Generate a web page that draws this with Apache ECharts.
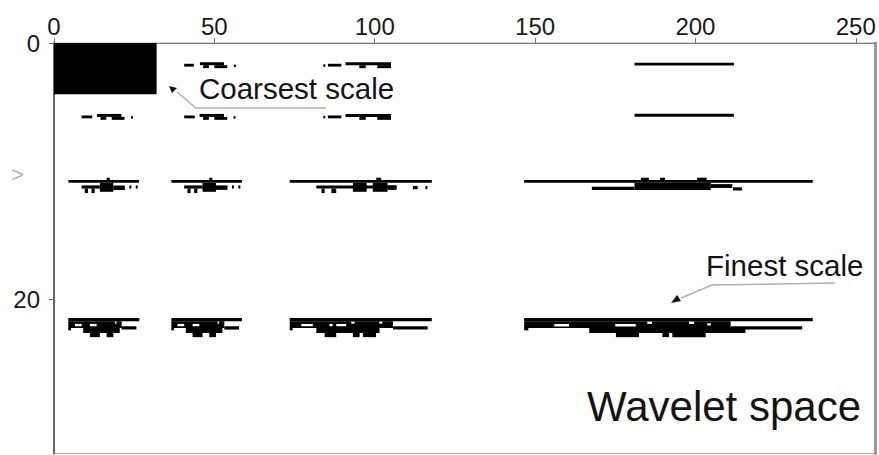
<!DOCTYPE html>
<html>
<head>
<meta charset="utf-8">
<script src="https://cdn.jsdelivr.net/npm/echarts@6/dist/echarts.min.js"></script>
<style>
  html, body { margin: 0; padding: 0; background: #fff; }
  #chart { width: 879px; height: 455px; }
</style>
</head>
<body>
<div id="chart"></div>
<script>
// Each significant-coefficient run is [xStart, xEnd, yTop, yBottom] in axis units.

// Scaling coefficients of the coarsest level
const coarsestBlock = [
  [0, 32, 0, 4]
];

// Detail coefficients, level near y = 1.6
const detailRowA = [
  [40.6, 43.6, 1.62, 1.84],
  [45.5, 53.0, 1.5, 1.73],
  [46.5, 48.3, 1.73, 1.96],
  [50.0, 54.0, 1.73, 1.96],
  [56.1, 56.7, 1.68, 1.88],
  [84.0, 84.6, 1.66, 1.86],
  [85.4, 89.6, 1.62, 1.84],
  [90.9, 105.1, 1.5, 1.73],
  [95.2, 97.2, 1.73, 1.96],
  [100.8, 105.1, 1.73, 1.96],
  [181.0, 212.0, 1.53, 1.76]
];

// Detail coefficients, level near y = 5.6
const detailRowB = [
  [8.6, 11.9, 5.65, 5.87],
  [13.4, 21.0, 5.53, 5.76],
  [14.5, 16.3, 5.76, 5.99],
  [18.0, 22.0, 5.76, 5.99],
  [24.0, 24.6, 5.7, 5.9],
  [40.6, 43.9, 5.65, 5.87],
  [45.4, 53.0, 5.53, 5.76],
  [46.5, 48.3, 5.76, 5.99],
  [50.0, 54.0, 5.76, 5.99],
  [56.0, 56.6, 5.7, 5.9],
  [84.0, 84.6, 5.68, 5.88],
  [85.4, 89.6, 5.65, 5.87],
  [90.9, 105.1, 5.53, 5.76],
  [95.2, 97.2, 5.76, 5.99],
  [100.8, 105.1, 5.76, 5.99],
  [181.0, 212.0, 5.51, 5.74]
];

// Detail coefficients, level near y = 10.8
const detailRowC = [
  [4.5, 26.5, 10.68, 10.9],
  [8.6, 14.3, 11.1, 11.35],
  [9.6, 10.6, 11.35, 11.7],
  [11.7, 12.7, 11.35, 11.7],
  [14.3, 18.5, 10.9, 11.6],
  [18.5, 22.1, 11.1, 11.45],
  [16.4, 17.4, 10.5, 10.68],
  [23.5, 24.1, 11.1, 11.35],
  [25.5, 26.1, 11.1, 11.35],

  [36.6, 58.6, 10.68, 10.9],
  [40.6, 46.3, 11.1, 11.35],
  [41.6, 42.6, 11.35, 11.7],
  [43.7, 44.7, 11.35, 11.7],
  [46.3, 50.5, 10.9, 11.6],
  [50.5, 54.1, 11.1, 11.45],
  [48.4, 49.4, 10.5, 10.68],
  [55.5, 56.1, 11.1, 11.35],
  [57.5, 58.1, 11.1, 11.35],

  [73.5, 117.8, 10.68, 10.9],
  [81.8, 106.8, 11.1, 11.35],
  [83.4, 84.4, 11.35, 11.7],
  [86.5, 88.0, 11.35, 11.7],
  [93.2, 97.5, 10.9, 11.6],
  [99.4, 104.0, 10.9, 11.6],
  [104.0, 106.8, 11.1, 11.45],
  [100.5, 102.0, 10.5, 10.68],
  [111.9, 113.4, 11.15, 11.4],
  [115.8, 116.4, 11.15, 11.4],

  [146.6, 236.6, 10.68, 10.9],
  [167.7, 181.0, 11.2, 11.45],
  [181.0, 204.8, 10.9, 11.45],
  [183.0, 185.5, 10.5, 10.68],
  [189.0, 190.5, 10.5, 10.68],
  [200.5, 203.5, 10.5, 10.68],
  [204.8, 211.5, 11.0, 11.3],
  [211.7, 214.5, 11.25, 11.5]
];

// Detail coefficients, finest level near y = 21.5
const finestRow = [
  [4.45, 26.6, 21.44, 21.69],
  [4.45, 21.1, 21.69, 22.21],
  [21.1, 25.7, 22.08, 22.34],
  [4.45, 5.3, 22.21, 22.4],
  [9.1, 20.5, 22.21, 22.6],
  [11.2, 14.3, 22.6, 22.93],
  [16.4, 18.5, 22.6, 22.93],

  [36.6, 58.6, 21.44, 21.69],
  [36.6, 53.1, 21.69, 22.21],
  [53.1, 57.7, 22.08, 22.34],
  [36.6, 37.4, 22.21, 22.4],
  [41.1, 52.5, 22.21, 22.6],
  [43.2, 46.3, 22.6, 22.93],
  [48.4, 50.5, 22.6, 22.93],

  [73.5, 117.8, 21.44, 21.69],
  [73.5, 105.7, 21.69, 22.21],
  [105.7, 116.5, 22.08, 22.34],
  [73.5, 74.4, 22.21, 22.4],
  [81.8, 101.5, 22.21, 22.6],
  [84.4, 88.0, 22.6, 22.93],
  [93.2, 95.3, 22.6, 22.93],
  [96.3, 100.4, 22.6, 22.93],

  [146.6, 236.6, 21.44, 21.69],
  [146.6, 211.0, 21.69, 22.21],
  [211.0, 233.3, 22.08, 22.34],
  [146.6, 147.9, 22.21, 22.4],
  [166.9, 215.6, 22.21, 22.6],
  [175.2, 182.4, 22.6, 22.93],
  [189.7, 191.8, 22.6, 22.93],
  [192.8, 203.2, 22.6, 22.93]
];

// Zero coefficients inside the finest-level runs
const finestGaps = [
  [6.54, 8.62, 21.9, 22.08],
  [11.2, 13.3, 21.9, 22.08],
  [19.0, 19.5, 21.72, 21.88],
  [38.5, 40.6, 21.9, 22.08],
  [43.2, 45.3, 21.9, 22.08],
  [51.0, 51.5, 21.72, 21.88],
  [77.1, 80.7, 21.9, 22.08],
  [85.9, 86.9, 21.9, 22.08],
  [88.0, 91.1, 21.9, 22.08],
  [92.7, 93.7, 21.72, 21.88],
  [101.4, 102.4, 21.72, 21.88],
  [156.0, 160.6, 21.9, 22.1],
  [175.0, 181.4, 21.9, 22.1],
  [185.0, 186.5, 21.72, 21.9],
  [198.0, 199.6, 21.72, 21.9],
  [203.7, 204.8, 21.85, 22.02]
];

const FONT = 'Liberation Sans, Arial, sans-serif';

function rectRenderer(fill) {
  return function (params, api) {
    const p0 = api.coord([api.value(0), api.value(2)]);
    const p1 = api.coord([api.value(1), api.value(3)]);
    return {
      type: 'rect',
      shape: { x: p0[0], y: p0[1], width: p1[0] - p0[0], height: p1[1] - p0[1] },
      style: { fill: fill }
    };
  };
}

function runSeries(name, data, fill) {
  return {
    name: name,
    type: 'custom',
    renderItem: rectRenderer(fill),
    encode: { x: [0, 1], y: [2, 3] },
    data: data,
    silent: true,
    animation: false
  };
}

const chart = echarts.init(document.getElementById('chart'), null, { renderer: 'svg' });

chart.setOption({
  backgroundColor: '#fff',
  animation: false,
  grid: {
    left: 54, top: 43, right: 4, height: 410.5,
    show: true, borderColor: '#a8a8a8', borderWidth: 1, backgroundColor: 'transparent',
    containLabel: false, outerBoundsMode: 'none'
  },
  xAxis: {
    type: 'value', position: 'top', min: 0, max: 256, interval: 50,
    axisLine: { show: true, lineStyle: { color: '#7a7a7a', width: 1 } },
    axisTick: { show: true, length: 5, lineStyle: { color: '#7a7a7a' } },
    axisLabel: { fontSize: 24, color: '#1a1a1a', fontFamily: FONT, margin: 5, showMaxLabel: false },
    splitLine: { show: false }
  },
  yAxis: [
    {
      type: 'value', inverse: true, min: 0, max: 32, interval: 20,
      axisLine: { show: true, lineStyle: { color: '#666', width: 2 } },
      axisTick: { show: true, length: 5, lineStyle: { color: '#666' } },
      axisLabel: { fontSize: 24, color: '#1a1a1a', fontFamily: FONT, margin: 14, showMaxLabel: false },
      splitLine: { show: false }
    },
    {
      type: 'value', inverse: true, min: 0, max: 32, position: 'right',
      axisLine: { show: true, lineStyle: { color: '#9a9a9a', width: 3 } },
      axisTick: { show: false }, axisLabel: { show: false }, splitLine: { show: false }
    }
  ],
  series: [
    runSeries('coarsest', coarsestBlock, '#000'),
    runSeries('level A', detailRowA, '#000'),
    runSeries('level B', detailRowB, '#000'),
    runSeries('level C', detailRowC, '#000'),
    runSeries('finest', finestRow, '#000'),
    runSeries('finest gaps', finestGaps, '#fff')
  ],
  graphic: [
    { type: 'text', left: 11, top: 163, style: { text: '>', fontSize: 22, fill: '#b4b4b4', fontFamily: FONT } },

    // "Coarsest scale" callout
    { type: 'polyline', shape: { points: [[326, 108], [196, 108], [177, 92]] },
      style: { stroke: '#b0b0b0', lineWidth: 1.5, fill: null } },
    { type: 'polygon', shape: { points: [[169, 86], [177, 88], [172, 93]] }, style: { fill: '#111' } },
    { type: 'text', x: 199, y: 88,
      style: { text: 'Coarsest scale', fontSize: 29.5, fill: '#141414', fontFamily: FONT, verticalAlign: 'middle' } },

    // "Finest scale" callout
    { type: 'polyline', shape: { points: [[835, 283], [712, 285], [681, 298]] },
      style: { stroke: '#b0b0b0', lineWidth: 1.5, fill: null } },
    { type: 'polygon', shape: { points: [[671, 303], [677, 295], [681, 301]] }, style: { fill: '#111' } },
    { type: 'text', x: 706, y: 265,
      style: { text: 'Finest scale', fontSize: 29.5, fill: '#141414', fontFamily: FONT, verticalAlign: 'middle' } },

    { type: 'text', x: 861, y: 406,
      style: { text: 'Wavelet space', fontSize: 42, fill: '#141414', fontFamily: FONT, align: 'right', verticalAlign: 'middle' } }
  ]
});
</script>
</body>
</html>
